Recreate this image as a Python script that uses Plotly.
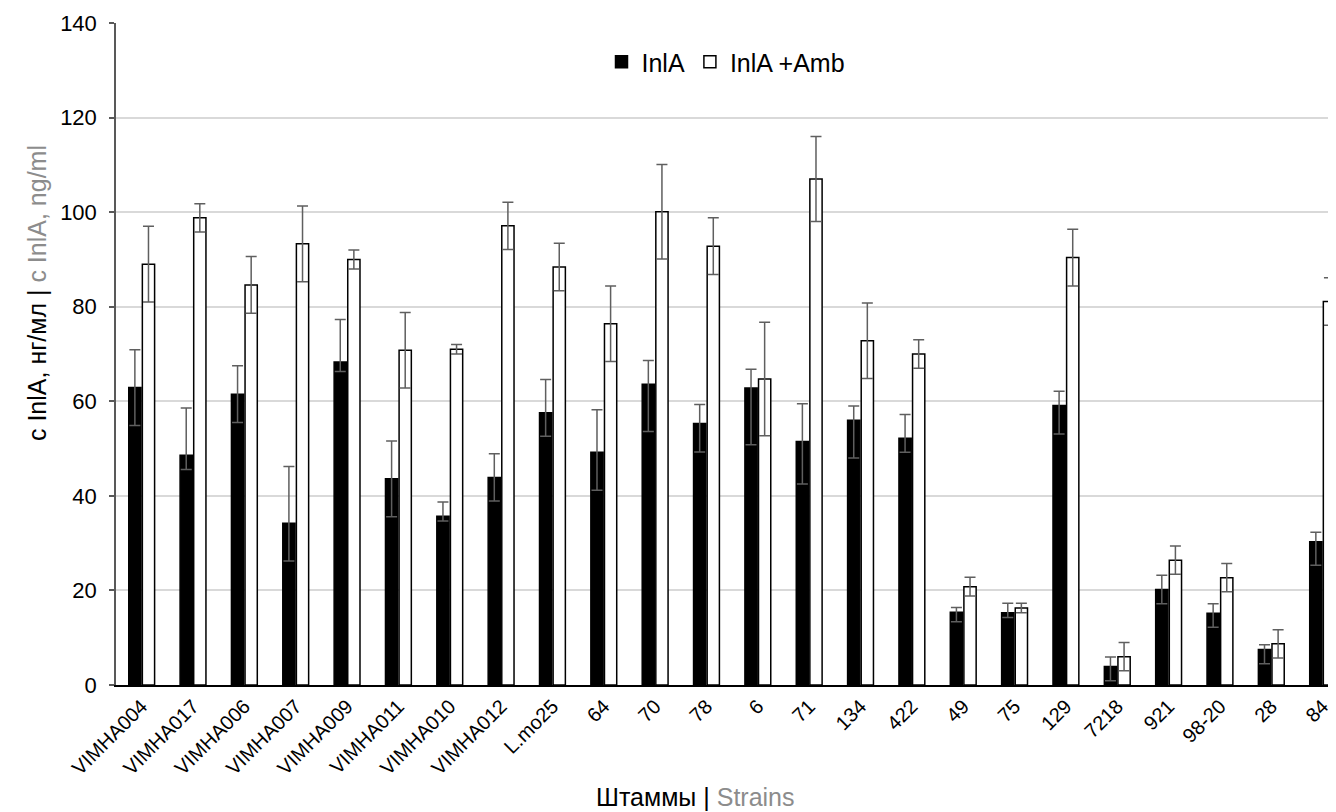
import plotly.graph_objects as go

strains = ["VIMHA004", "VIMHA017", "VIMHA006", "VIMHA007", "VIMHA009", "VIMHA011",
           "VIMHA010", "VIMHA012", "L.mo25", "64", "70", "78", "6", "71", "134", "422",
           "49", "75", "129", "7218", "921", "98-20", "28", "84"]

inla = [62.9, 48.6, 61.5, 34.2, 68.3, 43.6, 35.7, 43.9, 57.6, 49.2, 63.6, 55.3,
        62.8, 51.5, 56.0, 52.2, 15.4, 15.3, 59.1, 3.9, 20.2, 15.2, 7.5, 30.3]
inla_err_plus = [8, 10, 6, 12, 9, 8, 3, 5, 7, 9, 5, 4, 4, 8, 3, 5, 1, 2, 3, 2, 3, 2, 1, 2]
inla_err_minus = [8, 3, 6, 8, 2, 8, 1, 5, 5, 8, 10, 6, 12, 9, 8, 3, 2, 1, 6, 3, 3, 3, 3, 5]

inla_amb = [89.0, 98.8, 84.6, 93.3, 90.0, 70.8, 71.0, 97.1, 88.4, 76.4, 100.1, 92.8,
            64.7, 107.0, 72.8, 70.0, 20.8, 16.3, 90.4, 6.0, 26.4, 22.7, 8.7, 81.1]
inla_amb_err = [8, 3, 6, 8, 2, 8, 1, 5, 5, 8, 10, 6, 12, 9, 8, 3, 2, 1, 6, 3, 3, 3, 3, 5]

y_ticks = [0, 20, 40, 60, 80, 100, 120, 140]

FONT = "Arial, Liberation Sans, sans-serif"
ERR_COLOR = "#5f5f5f"
GREY_TEXT = "#8c8c8c"

fig = go.Figure()
fig.add_trace(go.Bar(
    x=strains, y=inla, name="InlA",
    marker=dict(color="#000000", line=dict(color="#000000", width=1.5)),
    error_y=dict(type="data", symmetric=False, array=inla_err_plus,
                 arrayminus=inla_err_minus, color=ERR_COLOR, thickness=1.5, width=5.5),
))
fig.add_trace(go.Bar(
    x=strains, y=inla_amb, name="InlA +Amb",
    marker=dict(color="#ffffff", line=dict(color="#000000", width=1.5)),
    error_y=dict(type="data", array=inla_amb_err, color=ERR_COLOR, thickness=1.5, width=5.5),
))

fig.update_layout(
    width=1328, height=804,
    margin=dict(l=108, r=0, t=15, b=127),
    paper_bgcolor="white", plot_bgcolor="white",
    font=dict(family=FONT, size=20, color="#000000"),
    barmode="group", bargap=0.47, bargroupgap=0.1,
    showlegend=True,
    legend=dict(orientation="h", x=0.5, xanchor="center", y=0.941, yanchor="middle",
                font=dict(size=25), bgcolor="rgba(0,0,0,0)", itemwidth=30,
                traceorder="normal"),
    xaxis=dict(
        type="category", range=[-0.5, 23.26],
        showline=True, linecolor="#000000", linewidth=1.5,
        ticks="", tickangle=-45, tickfont=dict(size=20),
        showgrid=False,
    ),
    yaxis=dict(
        range=[0, 140], tickvals=y_ticks,
        showline=True, linecolor="#595959", linewidth=1.5,
        ticks="outside", ticklen=5, tickcolor="#595959", tickwidth=1.5,
        ticklabelstandoff=8,
        showgrid=True, gridcolor="#d9d9d9", gridwidth=1.5,
        zeroline=False, tickfont=dict(size=22),
    ),
    annotations=[
        dict(text="Штаммы | <span style='color:%s'>Strains</span>" % GREY_TEXT,
             xref="paper", yref="paper", x=0.4746, y=-0.169,
             xanchor="center", yanchor="middle", showarrow=False,
             font=dict(size=25)),
        dict(text="c InlA, нг/мл | <span style='color:%s'>c InlA, ng/ml</span>" % GREY_TEXT,
             xref="paper", yref="paper", x=-0.0648, y=0.592,
             xanchor="center", yanchor="middle", showarrow=False, textangle=-90,
             font=dict(size=25)),
    ],
)

fig.write_html("out.html")
